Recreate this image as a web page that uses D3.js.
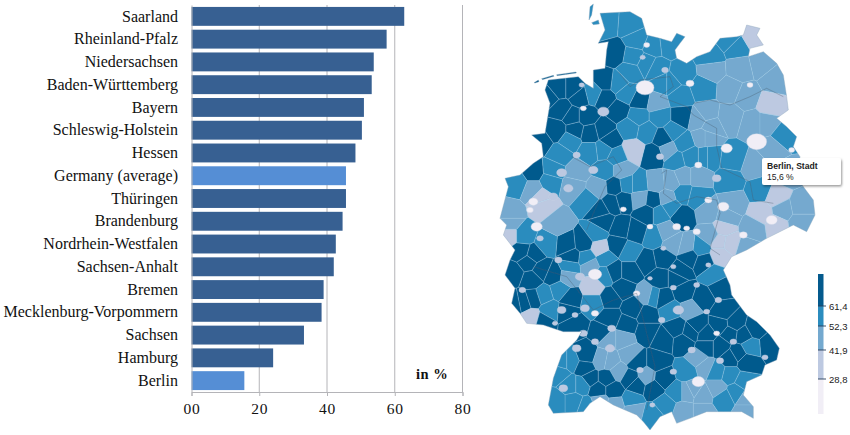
<!DOCTYPE html>
<html>
<head>
<meta charset="utf-8">
<script src="https://cdnjs.cloudflare.com/ajax/libs/d3/7.8.5/d3.min.js"></script>
<style>
  html, body { margin: 0; padding: 0; background: #fff; }
  svg { display: block; }
  .bars text { font-family: "Liberation Serif", serif; fill: #111; }
  .legend text, .tip text { font-family: "Liberation Sans", Arial, sans-serif; fill: #222; }
</style>
</head>
<body>
<svg id="chart" width="850" height="435"></svg>
<script>
// share per federal state, in %
const states = ["Saarland", "Rheinland-Pfalz", "Niedersachsen", "Baden-Württemberg", "Bayern",
  "Schleswig-Holstein", "Hessen", "Germany (average)", "Thüringen", "Brandenburg",
  "Nordrhein-Westfalen", "Sachsen-Anhalt", "Bremen", "Mecklenburg-Vorpommern", "Sachsen", "Hamburg", "Berlin"];
const shares = [62.8, 57.6, 53.8, 53.2, 50.9, 50.3, 48.4, 45.6, 45.6, 44.6, 42.6, 42, 39, 38.4, 33.2, 24.1, 15.6];
const highlighted = ["Germany (average)", "Berlin"];
const xTicks = [0, 20, 40, 60, 80];
const xTickLabels = ["00", "20", "40", "60", "80"];

// map classes
const classBreaks = [28.8, 41.9, 52.3, 61.4];
const classColors = ["#f1eef6", "#bdc9e1", "#74a9cf", "#2b8cbe", "#045a8d"];
const legendDomain = [15.6, 28.8, 41.9, 52.3, 61.4, 75];

// country outline, map units
const outline = [[330,40],[420,35],[455,55],[470,105],[510,115],[545,125],[560,100],[585,110],[570,130],[555,150],
  [560,175],[590,190],[620,170],[660,155],[690,115],[740,110],[760,105],[770,75],[810,85],[800,105],[820,135],[780,145],
  [775,170],[820,155],[860,190],[880,225],[890,290],[895,330],[860,355],[890,380],[920,410],[910,440],[930,470],[925,540],
  [970,600],[975,645],[950,695],[910,675],[830,715],[770,750],[725,770],[700,810],[720,855],[725,885],[770,945],[800,965],
  [840,1005],[868,1045],[860,1080],[825,1095],[815,1125],[770,1145],[760,1185],[790,1220],[790,1255],[755,1235],[700,1235],
  [650,1235],[600,1255],[560,1270],[545,1235],[510,1250],[480,1290],[460,1265],[440,1245],[370,1215],[330,1190],[300,1210],
  [280,1235],[190,1240],[175,1215],[190,1135],[215,1065],[260,1020],[275,995],[220,995],[160,975],[110,970],[90,940],
  [65,910],[75,865],[45,825],[60,780],[75,750],[40,705],[50,675],[30,655],[55,560],[45,535],[90,525],[130,490],[160,470],
  [155,430],[125,405],[165,400],[180,310],[165,270],[175,240],[265,230],[285,250],[310,265],[310,210],[345,205],[350,150],
  [355,125],[325,130],[345,90]];
const islands = [
  [[297,60],[300,20],[310,12],[305,45]],
  [[305,68],[325,60],[328,72],[310,74]],
  [[132,248],[145,240],[147,245],[135,249]],
  [[155,236],[190,226],[192,229],[157,239]],
  [[200,224],[258,216],[259,219],[201,227]]
];

// districts in map units: [x, y, rate, size]
// rate under 40 means a small urban district drawn as a blob of that size (13 when none given),
// size 0 keeps a low-rate district as a full cell
const districts = [
  [350,70,55],[420,75,56],[440,120,54],[375,160,66],[430,170,55],[490,140,56],[535,135,55],[470,190,56],[500,205,54],[420,215,55],
  [470,135,25,9],[458,172,38,8],[525,210,38,10],[575,220,55],[660,170,57],[740,140,56],[600,250,20,12],[640,265,56],[540,250,55],[720,120,57],
  [790,110,35,0],[665,210,47],[750,205,47],[815,190,47],[855,240,47],[780,255,20,9],[720,270,47],[770,290,47],[840,315,35,0],
  [650,340,47],[720,350,47],[790,370,47],[830,370,47],[880,410,57],[800,425,18,30],[710,445,22,17],[650,410,47],[650,470,55],[730,480,56],
  [850,445,47],[905,450,25,9],[790,500,47],[720,540,55],[810,570,57],[860,590,35,0],[890,520,47],
  [205,265,66],[250,265,66],[175,290,66],[215,330,65],[270,290,66],[345,245,67],[345,295,66],[385,330,66],[290,350,66],[245,350,66],
  [200,390,66],[150,425,66],[255,390,64],[340,390,66],[300,400,66],[360,420,65],[450,300,66],[280,325,25,9],[340,335,35,17],[275,255,35,8],
  [310,280,55],[385,250,56],[410,280,56],[465,263,20,27],[520,250,55],[500,310,47],[570,290,56],[445,350,55],[510,350,55],[575,350,66],
  [420,385,55],[470,395,55],[625,360,47],[550,395,55],[580,430,55],[640,410,47],[660,380,47],[520,415,66],[490,465,66],[510,470,35,11],
  [535,450,47],[430,450,35,0],[560,480,55],[600,470,55],[625,495,20,11],[655,470,55],
  [240,420,56],[210,465,55],[130,515,66],[260,465,30,11],[300,455,55],[340,450,55],[380,470,55],[395,510,50],[345,510,55],[310,510,35,14],
  [260,515,47],[190,510,55],[215,518,38,15],[180,545,55],[250,560,47],[295,600,55],[325,565,47],[80,550,56],[130,570,47],[150,590,35,0],
  [190,590,30,14],[130,605,20,14],[160,620,35,0],[235,565,38,14],[120,630,25,10],[60,640,47],
  [375,560,66],[410,555,56],[445,555,55],[450,595,47],[400,600,66],[365,610,66],[330,630,66],[400,628,25,9],[470,640,66],[490,600,66],
  [500,550,47],[545,545,47],[580,530,47],[625,530,47],[580,580,55],[530,595,47],[620,590,55],[655,600,25,11],[655,635,47],[680,535,35,13],
  [575,650,66],[510,640,55],[540,620,55],[730,610,47],[700,620,20,17],[815,640,35,0],[880,630,47],[930,620,47],[710,650,47],
  // south
  [845,660,20,17],[860,675,35,0],[930,665,47],[790,685,47],[760,705,22,12],[700,685,35,0],[690,725,35,0],[720,730,35,0],[690,765,35,0],[770,745,47],
  [660,705,47],[620,695,25,11],[590,685,25,9],[560,680,22,12],[530,695,47],[490,710,55],[630,745,55],[590,740,47],[550,730,47],[520,745,30,8],
  [480,680,25,9],[420,755,55],[380,735,66],[440,695,66],[390,685,66],[340,665,66],[320,700,55],[280,730,66],[230,735,66],[245,770,66],
  [170,730,55],[140,680,20,17],[60,705,35,0],[95,755,66],[130,765,66],[150,715,30,10],[100,705,55],[200,670,47],[60,670,47],
  [70,820,66],[115,785,66],[155,810,66],[125,840,66],[190,825,66],[97,870,35,10],[160,885,55],[210,870,55],[100,905,66],[75,910,66],
  [130,895,66],[240,895,66],[215,930,30,13],[180,930,55],[125,955,35,0],[160,965,66],[195,970,35,8],[230,935,66],[250,975,66],[255,945,38,9],
  [285,925,38,13],[315,940,20,11],[310,910,55],[300,795,47],[315,823,20,20],[270,830,35,14],[310,860,35,0],[345,775,55],[330,745,35,0],[290,775,55],
  [240,800,55],[205,780,38,11],[235,830,47],[345,825,55],[370,815,66],
  [420,815,66],[470,785,66],[520,775,66],[570,815,66],[600,770,66],[640,785,66],[670,825,55],[655,795,30,8],[550,800,30,8],[480,835,30,7],
  [400,865,66],[360,895,66],[440,880,20,10],[470,885,47],[490,890,55],[510,835,66],[560,835,66],[620,855,30,9],[690,865,66],[550,863,30,9],
  [580,875,66],[640,895,66],[685,900,30,10],[565,930,30,16],[600,930,47],[540,930,55],[520,895,66],[650,935,30,9],[700,935,66],[620,975,66],
  [680,1000,20,9],[735,970,66],[760,1005,66],[730,1025,30,10],[840,1035,66],[780,1040,55],[825,1072,30,9],[795,985,66],[720,1000,66],
  [690,975,66],[650,1005,66],[600,995,66],[560,985,66],[515,960,35,10],[470,945,66],[430,925,66],[410,975,66],[360,955,66],[365,985,35,12],
  [340,1000,66],[470,995,66],[520,1020,66],[580,1025,66],[605,1050,30,11],[625,1075,47],[650,1040,66],[690,1040,66],[690,1082,30,11],
  [720,1075,66],[770,1085,66],[745,1060,66],[645,1100,47],[680,1115,55],[720,1125,55],[625,1145,20,19],[760,1145,55],[590,1115,55],
  [610,1165,47],[640,1185,47],[680,1165,47],[700,1195,55],[740,1175,55],[770,1195,47],[770,1235,47],[590,1175,47],[560,1175,55],
  [580,1235,47],[640,1235,47],
  [280,1000,38,12],[315,1025,30,11],[290,1065,66],[260,1045,38,13],[240,1085,55],[360,1045,30,14],[355,1015,47],[400,1015,47],[360,1085,47],
  [420,1065,47],[385,1115,47],[335,1080,47],[285,1105,66],[300,1135,66],[350,1135,66],[325,1170,66],[370,1170,66],[420,1135,66],
  [450,1110,30,10],[470,1130,47],[440,1155,66],[490,1165,66],[520,1135,66],[500,1085,66],[550,1115,30,10],[440,1085,66],[425,1200,55],
  [220,1165,35,13],[210,1120,55],[240,1155,55],[220,1085,55],[250,1205,55],[200,1205,55],[275,1155,55],[290,1220,55],[330,1205,47],
  [375,1215,47],[430,1230,47],[487,1215,30,8],[490,1245,55],[525,1215,55]
];

// state borders, map units
const stateBorders = [
  [[385,215],[420,260],[450,240],[540,230],[550,260],[510,290],[590,320],[610,345],[680,385],[680,440],[695,505],[780,545],[790,600],[850,610]],
  [[610,310],[660,300],[720,315],[780,290],[830,265],[880,290]],
  [[515,520],[530,510],[520,580],[560,610],[620,590],[680,600],[690,640],[660,745],[690,765]],
  [[245,470],[300,500],[370,470],[395,510],[345,560],[310,640],[290,690]],
  [[130,800],[230,830],[270,880],[310,930],[370,900],[440,880],[470,1000],[495,1100],[470,1230]]
];

const svg = d3.select("#chart");

// left: bars
const x = d3.scaleLinear().domain([0, 80]).range([191.5, 462.5]);
const y = d3.scaleBand().domain(states).range([5, 392]).paddingInner(0.17).paddingOuter(0.085);
const bars = svg.append("g").attr("class", "bars");

bars.append("g").selectAll("line").data(xTicks.slice(1)).join("line")
  .attr("x1", d => x(d)).attr("x2", d => x(d))
  .attr("y1", 5).attr("y2", 392)
  .attr("stroke", "#b4b4b8").attr("stroke-width", 1);

bars.selectAll("rect").data(states).join("rect")
  .attr("x", x(0))
  .attr("y", d => y(d))
  .attr("width", (d, i) => x(shares[i]) - x(0))
  .attr("height", y.bandwidth())
  .attr("fill", d => highlighted.includes(d) ? "#558ed5" : "#376092");

const xAxis = bars.append("g").attr("transform", "translate(0,392)")
  .call(d3.axisBottom(x).tickValues(xTicks).tickFormat((d, i) => xTickLabels[i]).tickSize(4).tickPadding(5));
xAxis.selectAll("text").attr("font-size", 15.5).style("letter-spacing", "0.8px").attr("dy", "0.85em");
xAxis.selectAll("path, line").attr("stroke", "#b4b4b8");

const yAxis = bars.append("g").attr("transform", "translate(191.5,0)")
  .call(d3.axisLeft(y).tickSize(0).tickPadding(13.5));
yAxis.selectAll("text").attr("font-size", 16);
yAxis.select("path").attr("stroke", "#b4b4b8");

bars.append("text").attr("x", 416).attr("y", 379)
  .attr("font-size", 14.5).attr("font-weight", "bold").style("letter-spacing", "0.5px").text("in %");

// right: map
const mx = d3.scaleLinear().domain([0, 1080]).range([490, 850]);
const my = d3.scaleLinear().domain([0, 1305]).range([0, 435]);
const color = d3.scaleThreshold().domain(classBreaks).range(classColors);
const shape = d3.line().x(d => mx(d[0])).y(d => my(d[1]));
const outlinePath = [outline].concat(islands).map(r => shape(r) + "Z").join("");

const isBlob = d => d[2] < 40 && d[3] !== 0;
const regions = districts.filter(d => !isBlob(d));
const blobs = districts.filter(isBlob);

const defs = svg.append("defs");
defs.append("clipPath").attr("id", "germany").append("path").attr("d", outlinePath);
const soft = defs.append("filter").attr("id", "soft");
soft.append("feGaussianBlur").attr("stdDeviation", 0.4);
const shadow = defs.append("filter").attr("id", "shadow").attr("x", "-10%").attr("y", "-20%").attr("width", "125%").attr("height", "150%");
shadow.append("feDropShadow").attr("dx", 1).attr("dy", 1.5).attr("stdDeviation", 1.2).attr("flood-opacity", 0.4);

const voronoi = d3.Delaunay.from(regions, d => mx(d[0]), d => my(d[1])).voronoi([490, 0, 850, 435]);

const map = svg.append("g").attr("class", "map").attr("filter", "url(#soft)");
const cells = map.append("g").attr("clip-path", "url(#germany)");
cells.append("g").selectAll("path").data(regions).join("path")
  .attr("d", (d, i) => voronoi.renderCell(i))
  .attr("fill", d => color(d[2]))
  .attr("stroke", "#9fcbe6").attr("stroke-width", 0.5).attr("stroke-opacity", 0.6);
cells.append("g").selectAll("ellipse").data(blobs).join("ellipse")
  .attr("cx", d => mx(d[0])).attr("cy", d => my(d[1]))
  .attr("rx", d => mx(d[3] === undefined ? 13 : d[3]) - mx(0))
  .attr("ry", d => (mx(d[3] === undefined ? 13 : d[3]) - mx(0)) * 0.8)
  .attr("fill", d => color(d[2]))
  .attr("stroke", "#c9d4e6").attr("stroke-width", 0.4);
cells.append("g").selectAll("path").data(stateBorders).join("path")
  .attr("d", shape).attr("fill", "none")
  .attr("stroke", "#4c5a6b").attr("stroke-width", 0.6).attr("stroke-opacity", 0.6);
map.append("path").attr("d", outlinePath)
  .attr("fill", "none").attr("stroke", "#8ea6bc").attr("stroke-width", 0.4);

// legend
const legendY = d3.scaleLinear().domain(legendDomain).range([414, 379, 350, 326, 306, 274]);
const legend = svg.append("g").attr("class", "legend");
d3.pairs(legendDomain).forEach(([a, b]) => {
  legend.append("rect").attr("x", 818).attr("width", 5.5)
    .attr("y", legendY(b)).attr("height", legendY(a) - legendY(b))
    .attr("fill", color((a + b) / 2));
});
const legendAxis = legend.append("g").attr("transform", "translate(824,0)")
  .call(d3.axisRight(legendY).tickValues(classBreaks)
    .tickFormat(d => String(d).replace(".", ",")).tickSize(0).tickPadding(5));
legendAxis.select("path").remove();
legendAxis.selectAll("text").attr("font-size", 9.5);
legend.selectAll("line.mark").data(classBreaks).join("line").attr("class", "mark")
  .attr("x1", 818).attr("x2", 826)
  .attr("y1", d => legendY(d)).attr("y2", d => legendY(d))
  .attr("stroke", "#27405c").attr("stroke-width", 0.9);

// tooltip
const tip = svg.append("g").attr("class", "tip").attr("transform", "translate(762,158)");
tip.append("rect").attr("width", 79).attr("height", 27).attr("rx", 2)
  .attr("fill", "#fff").attr("filter", "url(#shadow)");
tip.append("text").attr("x", 5).attr("y", 11).attr("font-size", 8.6).attr("font-weight", "bold").text("Berlin, Stadt");
tip.append("text").attr("x", 5).attr("y", 22).attr("font-size", 8.6).text("15,6 %");
</script>
</body>
</html>
